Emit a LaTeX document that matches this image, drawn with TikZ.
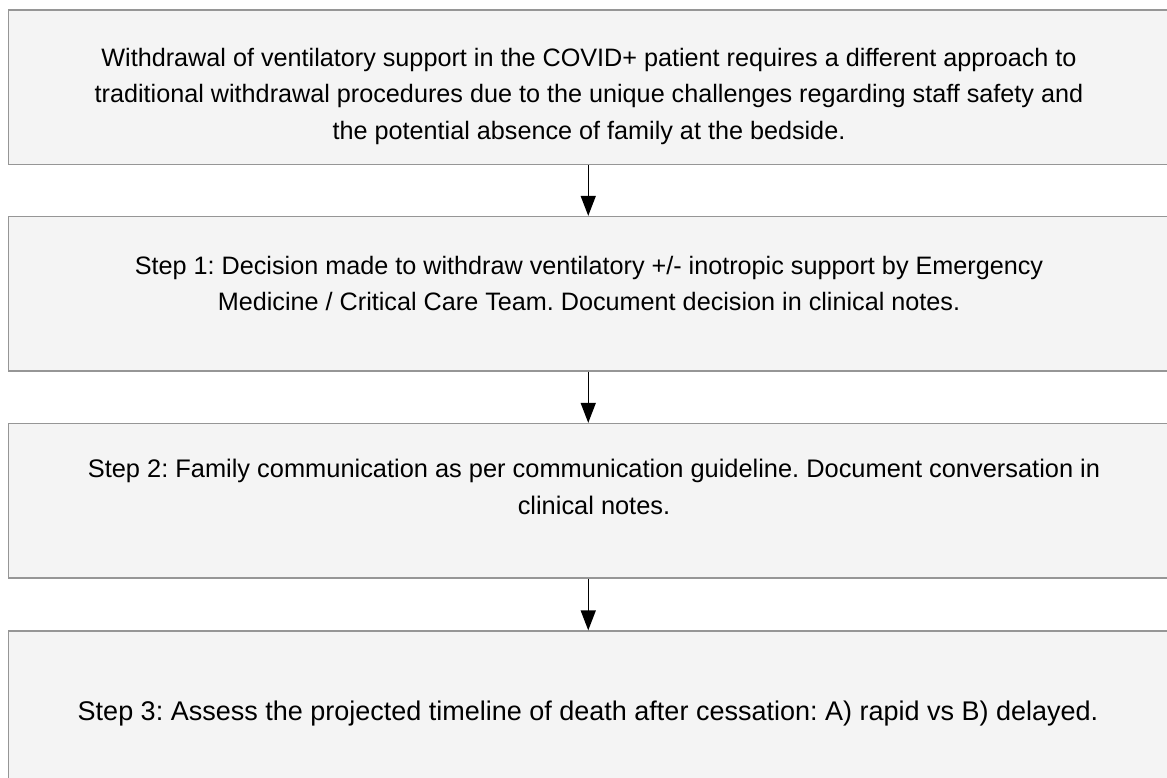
\documentclass[tikz,border=0pt]{standalone}
\usepackage{fontspec}
\setmainfont{Liberation Sans}
\frenchspacing
\usetikzlibrary{arrows.meta}
\definecolor{boxfill}{RGB}{244,244,244}
\definecolor{boxline}{RGB}{150,150,150}
\tikzset{
  flowbox/.style={draw=boxline, fill=boxfill, line width=1.3pt, rectangle,
    minimum width=1159.5pt, minimum height=154.5pt, inner sep=0pt},
  flowtext/.style={align=center, inner sep=0pt, text=black,
    font=\fontsize{25.2}{36.5}\selectfont},
  flowarrow/.style={line width=1.4pt, -{Triangle[width=15pt,length=20pt]}}
}
\begin{document}
\begin{tikzpicture}[x=1pt,y=-1pt]
\useasboundingbox (0,0) rectangle (1167,778);
\node[flowbox] (b1) at (588.25,87.25) {};
\node[flowbox] (b2) at (588.25,293.75) {};
\node[flowbox] (b3) at (588.25,500.75) {};
\node[flowbox] (b4) at (588.25,708.25) {};
\node[flowtext] (t1) at (589,96) {Withdrawal of ventilatory support in the COVID+ patient requires a different approach to\\traditional withdrawal procedures due to the unique challenges regarding staff safety and\\the potential absence of family at the bedside.};
\node[flowtext] (t2) at (589,283.5) {Step 1: Decision made to withdraw ventilatory +/- inotropic support by Emergency\\Medicine / Critical Care Team. Document decision in clinical notes.};
\node[flowtext, font=\fontsize{25.4}{36.5}\selectfont] (t3) at (594,487) {Step 2: Family communication as per communication guideline. Document conversation in\\clinical notes.};
\node[flowtext, font=\fontsize{27}{36.5}\selectfont] (t4) at (588,713.5) {Step 3: Assess the projected timeline of death after cessation: A) rapid vs B) delayed.};
\draw[flowarrow] (b1.south) -- (b2.north);
\draw[flowarrow] (b2.south) -- (b3.north);
\draw[flowarrow] (b3.south) -- (b4.north);
\end{tikzpicture}
\end{document}
